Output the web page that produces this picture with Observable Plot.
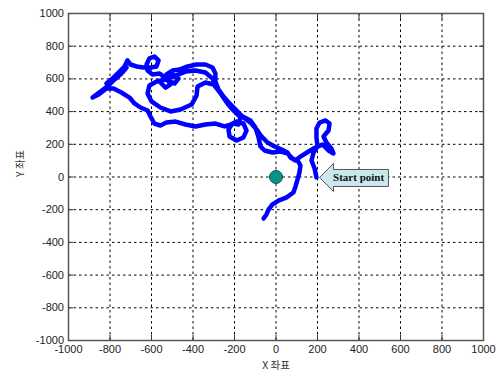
<!DOCTYPE html>
<html>
<head>
<meta charset="utf-8">
<script src="https://cdn.jsdelivr.net/npm/d3@7"></script>
<script src="https://cdn.jsdelivr.net/npm/@observablehq/plot@0.6"></script>
<style>
  html, body { margin: 0; padding: 0; background: #ffffff; }
  #chart { width: 499px; height: 374px; }
</style>
</head>
<body>
<div id="chart"></div>
<script>
// Axis ticks
const xTicks = [-1000, -800, -600, -400, -200, 0, 200, 400, 600, 800, 1000];
const yTicks = [-1000, -800, -600, -400, -200, 0, 200, 400, 600, 800, 1000];

// Trajectory, from the start point to the end
const pathX = [195,186,171,181,200,195,195,210,239,258,253,229,243,267,277,253,224,190,157,118,94,70,55,27,-7,-41,-70,-94,-123,-157,-190,-224,-253,-277,-292,-292,-306,-340,-383,-426,-465,-499,-528,-518,-489,-470,-499,-537,-557,-532,-508,-528,-561,-595,-619,-624,-610,-586,-566,-576,-605,-639,-672,-701,-716,-730,-754,-788,-817,-778,-745,-720,-735,-769,-807,-846,-884,-855,-817,-783,-745,-706,-682,-653,-619,-605,-586,-557,-528,-484,-436,-388,-340,-292,-248,-219,-190,-157,-142,-157,-190,-224,-229,-210,-181,-171,-205,-234,-267,-301,-340,-378,-383,-407,-460,-508,-557,-600,-619,-610,-576,-532,-484,-436,-388,-340,-306,-277,-239,-200,-161,-123,-99,-84,-75,-55,-17,22,55,80,104,118,113,104,94,84,51,12,-17,-36,-46,-60];
const pathY = [-3,52,101,150,187,242,297,333,346,327,284,248,211,174,144,162,199,180,156,125,101,119,150,168,187,211,248,291,333,364,407,450,492,535,584,633,670,688,688,676,657,651,627,590,572,602,627,615,578,547,566,602,633,627,651,688,725,737,713,676,670,670,676,688,713,676,645,602,572,596,633,670,651,609,560,523,486,505,541,541,517,486,450,425,407,370,327,315,333,339,321,309,321,327,309,321,339,327,284,242,223,248,291,327,321,364,407,450,511,566,578,553,498,443,413,401,425,462,511,560,584,596,621,645,651,639,602,529,468,407,370,346,303,242,187,162,150,156,144,113,101,70,28,-15,-58,-95,-125,-144,-168,-199,-229,-254];

// Start marker
const startX = [0];
const startY = [0];

// Callout arrow outline and label
const arrowX = [210, 277, 277, 542, 542, 277, 277, 210];
const arrowY = [-3, 83, 46, 46, -58, -58, -89, -3];
const calloutText = ["Start point"];
const calloutX = [398];
const calloutY = [-3];

const xLabel = ["X 좌표"];
const yLabel = ["Y 좌표"];

const path = pathX.map((x, i) => ({x, y: pathY[i]}));
const arrow = arrowX.map((x, i) => ({x, y: arrowY[i]}));
const start = startX.map((x, i) => ({x, y: startY[i]}));
const callout = calloutText.map((t, i) => ({t, x: calloutX[i], y: calloutY[i]}));

const fmt = d => String(d);

const chart = Plot.plot({
  width: 499,
  height: 374,
  marginLeft: 68,
  marginRight: 16,
  marginTop: 13,
  marginBottom: 34,
  style: {fontFamily: "'Liberation Sans', Arial, sans-serif", fontSize: "11px", color: "#222", background: "#ffffff", overflow: "visible"},
  x: {domain: [-1000, 1000], label: null},
  y: {domain: [-1000, 1000], label: null},
  marks: [
    Plot.gridX(xTicks, {stroke: "#000", strokeOpacity: 1, strokeWidth: 1, strokeDasharray: "2.5,3"}),
    Plot.gridY(yTicks, {stroke: "#000", strokeOpacity: 1, strokeWidth: 1, strokeDasharray: "2.5,3"}),
    Plot.axisX(xTicks, {anchor: "bottom", tickSize: -5, tickPadding: 10, tickFormat: fmt, label: null, stroke: "#333"}),
    Plot.axisX(xTicks, {anchor: "top", tickSize: -5, fill: "none", label: null, stroke: "#333"}),
    Plot.axisY(yTicks, {anchor: "left", tickSize: -5, tickPadding: 9.5, tickFormat: fmt, label: null, stroke: "#333"}),
    Plot.axisY(yTicks, {anchor: "right", tickSize: -5, fill: "none", label: null, stroke: "#333"}),
    Plot.frame({stroke: "#555", strokeWidth: 1.5}),
    Plot.line(path, {x: "x", y: "y", stroke: "#0000ff", strokeWidth: 4.5, strokeLinejoin: "round", strokeLinecap: "round"}),
    Plot.dot(start, {x: "x", y: "y", r: 6.5, fill: "#0b918c", stroke: "#0a5550", strokeWidth: 1}),
    Plot.line(arrow, {x: "x", y: "y", fill: "#c9e7ec", stroke: "#555", strokeWidth: 1, curve: "linear"}),
    Plot.text(callout, {x: "x", y: "y", text: "t", fontFamily: "'Liberation Serif', 'Times New Roman', serif", fontWeight: "bold", fontSize: 11, fill: "#111"}),
    Plot.text(xLabel, {frameAnchor: "bottom", dy: 28, text: d => d, fontFamily: "'Noto Sans CJK KR', sans-serif", fontSize: 10.5, fill: "#333"}),
    Plot.text(yLabel, {frameAnchor: "left", dx: -48, rotate: -90, text: d => d, fontFamily: "'Noto Sans CJK KR', sans-serif", fontSize: 10.5, fill: "#333"})
  ]
});
document.getElementById("chart").appendChild(chart);
</script>
</body>
</html>
